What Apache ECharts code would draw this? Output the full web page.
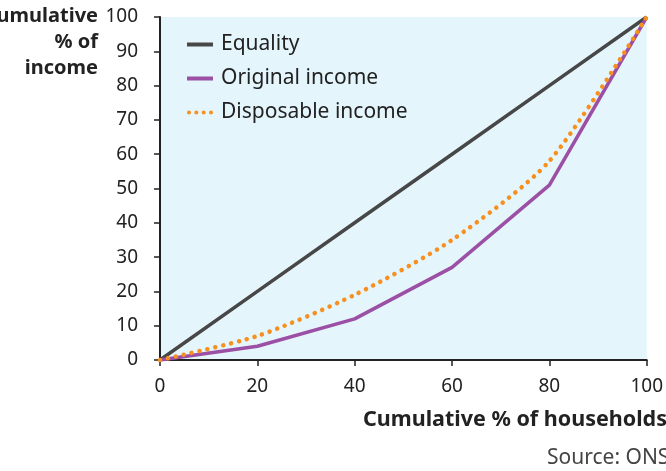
<!DOCTYPE html>
<html>
<head>
<meta charset="utf-8">
<script src="https://cdn.jsdelivr.net/npm/echarts@6/dist/echarts.min.js"></script>
<style>
  html, body { margin: 0; padding: 0; background: #fff; }
  #chart { width: 666px; height: 471px; }
</style>
</head>
<body>
<div id="chart"></div>
<script>
// 数据
var households = [0, 20, 40, 60, 80, 100];
var equality = [0, 20, 40, 60, 80, 100];
var originalIncome = [0, 4, 12, 27, 51, 100];
var disposableIncome = [0, 7, 19, 35, 58, 100];

function pairs(ys) {
  return households.map(function (x, i) { return [x, ys[i]]; });
}

var myChart = echarts.init(document.getElementById('chart'));
var font = '"Noto Sans", "Open Sans", sans-serif';

// 图例图标：实线和点线
var solidIcon = 'path://M0,0H26V4H0Z';
var dotIcon = 'path://M0,2a2,2 0 1,0 4,0a2,2 0 1,0 -4,0Z' +
  'M7.33,2a2,2 0 1,0 4,0a2,2 0 1,0 -4,0Z' +
  'M14.67,2a2,2 0 1,0 4,0a2,2 0 1,0 -4,0Z' +
  'M22,2a2,2 0 1,0 4,0a2,2 0 1,0 -4,0Z';

var option = {
  animation: false,
  textStyle: { fontFamily: font },
  grid: {
    left: 160, top: 17, right: 17, bottom: 111,
    show: true, backgroundColor: '#e5f5fc', borderWidth: 0
  },
  legend: {
    orient: 'vertical',
    left: 182, top: 29,
    itemWidth: 26, itemHeight: 4, itemGap: 13,
    textStyle: { fontSize: 21, color: '#222', fontFamily: font, padding: [0, 0, 0, 3] },
    data: [
      { name: 'Equality', icon: solidIcon },
      { name: 'Original income', icon: solidIcon },
      { name: 'Disposable income', icon: dotIcon }
    ]
  },
  xAxis: {
    type: 'value', min: 0, max: 100, interval: 20,
    axisLine: { lineStyle: { color: '#222', width: 2 } },
    axisTick: { show: true, length: 6, lineStyle: { color: '#222', width: 1.5 } },
    axisLabel: { fontSize: 19, color: '#222', margin: 17 },
    splitLine: { show: false }
  },
  yAxis: {
    type: 'value', min: 0, max: 100, interval: 10,
    axisLine: { show: true, lineStyle: { color: '#222', width: 2 } },
    axisTick: { show: true, length: 6, lineStyle: { color: '#222', width: 1.5 } },
    axisLabel: { fontSize: 19, color: '#222', margin: 22 },
    splitLine: { show: false }
  },
  graphic: [
    {
      type: 'text', x: 98, y: 3,
      style: {
        text: 'Cumulative\n% of\nincome', align: 'right', verticalAlign: 'top',
        font: 'bold 20px ' + font, fill: '#222', lineHeight: 26
      }
    },
    {
      type: 'text', x: 667, y: 420,
      style: {
        text: 'Cumulative % of households', align: 'right', verticalAlign: 'middle',
        font: 'bold 21.5px ' + font, fill: '#222'
      }
    },
    {
      type: 'text', x: 547, y: 458,
      style: {
        text: 'Source: ONS', align: 'left', verticalAlign: 'middle',
        font: '21px ' + font, fill: '#444'
      }
    }
  ],
  series: [
    {
      name: 'Equality', type: 'line', data: pairs(equality),
      symbol: 'none',
      lineStyle: { color: '#474747', width: 3.5 },
      itemStyle: { color: '#474747' }
    },
    {
      name: 'Original income', type: 'line', data: pairs(originalIncome),
      symbol: 'none',
      lineStyle: { color: '#9b4fa5', width: 3.5 },
      itemStyle: { color: '#9b4fa5' }
    },
    {
      name: 'Disposable income', type: 'line', data: pairs(disposableIncome),
      symbol: 'none', smooth: 0.25,
      lineStyle: { color: '#f7901e', width: 4.5, type: [0.1, 8], cap: 'round' },
      itemStyle: { color: '#f7901e' }
    }
  ]
};

myChart.setOption(option);
</script>
</body>
</html>
